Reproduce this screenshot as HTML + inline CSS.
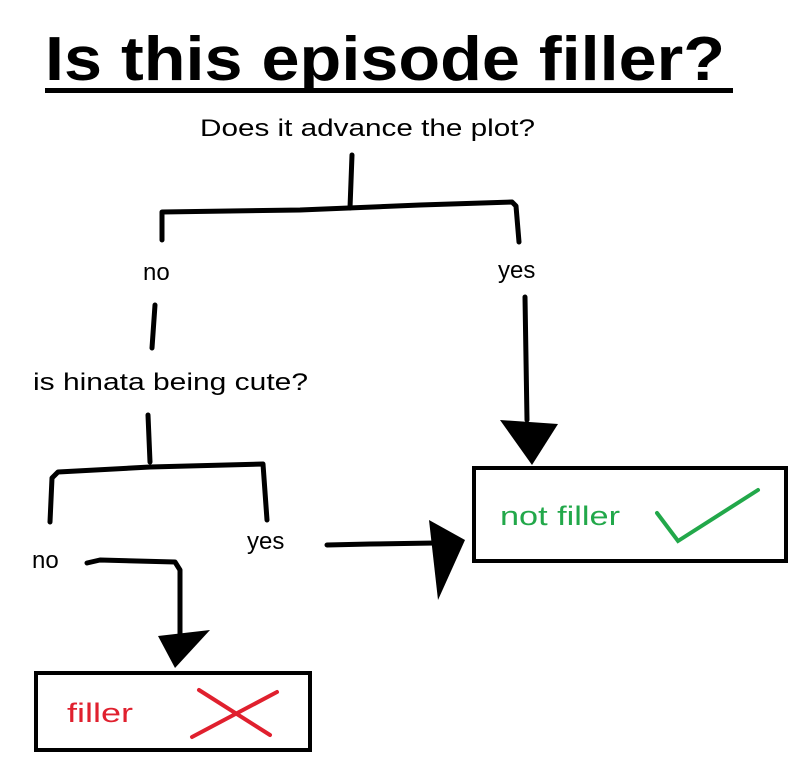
<!DOCTYPE html>
<html><head><meta charset="utf-8"><style>
html,body{margin:0;padding:0;background:#fff;}
svg{display:block;}
text{font-family:"Liberation Sans","DejaVu Sans",sans-serif;}
</style></head><body>
<svg width="811" height="761" viewBox="0 0 811 761" xmlns="http://www.w3.org/2000/svg">
<rect width="811" height="761" fill="#fff"/>
<text x="385" y="80" font-size="62" font-weight="bold" text-anchor="middle" textLength="680" lengthAdjust="spacingAndGlyphs">Is this episode filler?</text>
<rect x="45" y="88" width="688" height="5" fill="#000"/>
<text x="200" y="136" font-size="24" textLength="335" lengthAdjust="spacingAndGlyphs">Does it advance the plot?</text>
<g stroke="#000" stroke-width="5" fill="none" stroke-linecap="round" stroke-linejoin="round">
<path d="M352 155 L350 208"/>
<path d="M162 240 L162 212 L300 210 L420 205 L512 202 L516 206 L519 242"/>
<path d="M155 305 L152 348"/>
<path d="M525 297 L527 420"/>
<path d="M148 415 L150 462"/>
<path d="M50 522 L52 478 L58 472 L150 467 L263 464 L267 520"/>
<path d="M87 563 L100 560 L175 562 L180 570 L180 635"/>
<path d="M327 545 L370 544 L435 543"/>
</g>
<g fill="#000">
<polygon points="500,420 558,424 532,465"/>
<polygon points="158,636 210,630 175,668"/>
<polygon points="429,520 465,540 438,600"/>
</g>
<text x="143" y="280" font-size="24">no</text>
<text x="498" y="278" font-size="24">yes</text>
<text x="33" y="390" font-size="24" textLength="275" lengthAdjust="spacingAndGlyphs">is hinata being cute?</text>
<text x="32" y="568" font-size="24">no</text>
<text x="247" y="549" font-size="24">yes</text>
<rect x="474" y="468" width="312" height="93" fill="none" stroke="#000" stroke-width="4"/>
<text x="500" y="525" font-size="27" fill="#22a84a" textLength="120" lengthAdjust="spacingAndGlyphs">not filler</text>
<path d="M657 513 L678 541 L758 490" stroke="#22a84a" stroke-width="4" fill="none" stroke-linecap="round"/>
<rect x="36" y="673" width="274" height="77" fill="none" stroke="#000" stroke-width="4"/>
<text x="67" y="722" font-size="27" fill="#e0202e" textLength="66" lengthAdjust="spacingAndGlyphs">filler</text>
<path d="M199 690 L270 735 M277 692 L192 737" stroke="#e0202e" stroke-width="4" fill="none" stroke-linecap="round"/>
</svg>
</body></html>
